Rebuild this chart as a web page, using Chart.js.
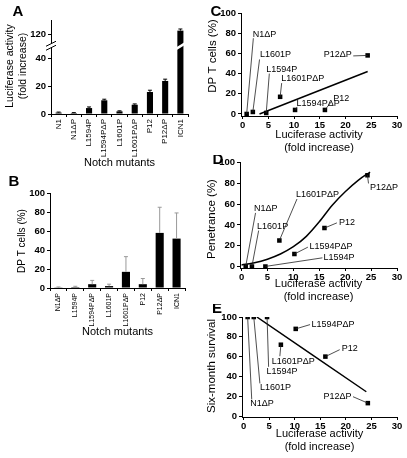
<!DOCTYPE html>
<html>
<head>
<meta charset="utf-8">
<script src="https://cdn.jsdelivr.net/npm/chart.js@4.4.1/dist/chart.umd.min.js"></script>
<style>
body { margin: 0; background: #fff; }
#fig { position: relative; width: 407px; height: 458px; background: #fff; }
canvas { position: absolute; }
</style>
</head>
<body>
<div id="fig">
  <canvas id="chartA" width="200" height="172" style="left:0;top:0"></canvas>
  <canvas id="chartB" width="200" height="165" style="left:0;top:175px"></canvas>
  <canvas id="chartC" width="207" height="155" style="left:200px;top:0"></canvas>
  <canvas id="chartD" width="207" height="149" style="left:200px;top:155px"></canvas>
  <canvas id="chartE" width="207" height="150" style="left:200px;top:304px"></canvas>
</div>
<script>
// A: luciferase activity (fold increase) per Notch mutant
const mutantsA = ["N1", "N1ΔP", "L1594P", "L1594PΔP", "L1601P", "L1601PΔP", "P12", "P12ΔP", "ICN1"];
const luciferase = [1.0, 0.7, 4.3, 9.9, 1.9, 6.7, 15.9, 23.9, 122.5];
const luciferaseErr = [0.4, 0.3, 0.8, 0.8, 0.4, 0.6, 1.3, 1.3, 1.2];
const yTicksA = [0, 20, 40, 120];
const breakShift = 62.2; // values over 100 are drawn this much lower (broken axis)

// B: DP T cells (%)
const mutantsB = ["N1ΔP", "L1594P", "L1594PΔP", "L1601P", "L1601PΔP", "P12", "P12ΔP", "ICN1"];
const dpCells = [0.3, 1, 4, 2, 17, 4, 58, 52];
const dpCellsErr = [0.8, 0.8, 4, 2, 16, 6, 27, 27];

// C, D, E: phenotype vs luciferase activity
const mutantsXY = ["N1ΔP", "L1601P", "L1594P", "L1601PΔP", "L1594PΔP", "P12", "P12ΔP"];
const lucXY = [0.8, 2.0, 4.6, 7.3, 10.2, 16.0, 24.3];
const dpXY = [0, 2, 1, 17, 4, 4, 58];
const penetrance = [0, 0, 0, 25, 12, 37, 88];
const survival = [100, 100, 100, 72, 88, 60, 13];

// fitted lines
const fitCx = [3.3, 24.3];
const fitCy = [0, 42];
const curveDx = [0, 2.5, 5, 7.5, 10, 12.5, 15, 17.5, 20, 22.5, 24.8];
const curveDy = [1.5, 3.5, 7, 12, 19, 29, 43, 59, 72, 83, 91];
const fitEx = [2.6, 24.0];
const fitEy = [100, 24.5];

const xTicksFold = [0, 5, 10, 15, 20, 25, 30];
const yTicksPct = [0, 20, 40, 60, 80, 100];

// label placement: [textX, textY, leaderEndX, leaderEndY, align] in data units
const labelsC = [
  [2.0, 79, 2.1, 75, 'left'],
  [3.4, 58.5, 3.3, 54, 'left'],
  [4.6, 44, 5.2, 40, 'left'],
  [7.5, 35, 7.6, 30.6, 'left'],
  [10.5, 10, 10.6, 7, 'left'],
  [17.6, 15, 17.3, 12.5, 'left'],
  [21.2, 58.5, 21.5, 57.5, 'right']
];
const labelsD = [
  [2.4, 56, 2.7, 51.6, 'left'],
  [3.0, 38.8, 3.3, 34.6, 'left'],
  [15.8, 9, 15.6, 8.3, 'left'],
  [10.5, 69, 10.7, 65, 'left'],
  [13.1, 19.6, 12.8, 18.6, 'left'],
  [18.8, 42.6, 18.4, 42, 'left'],
  [24.8, 76, 24.5, 80, 'left']
];
const labelsE = [
  [1.3, 12.4, 1.6, 16.8, 'left'],
  [3.2, 28.9, 3.2, 32.9, 'left'],
  [4.5, 45.3, 4.9, 49.7, 'left'],
  [5.5, 55.4, 7.1, 60.4, 'left'],
  [13.3, 92.6, 13.0, 92.3, 'left'],
  [19.2, 68, 18.8, 67, 'left'],
  [21.1, 20, 21.4, 19.5, 'right']
];

const FAMILY = "'Liberation Sans', Arial, Helvetica, sans-serif";
const f = (size, weight) => ({ family: FAMILY, size: size, weight: weight || 'normal' });
const css = (size, weight) => (weight || 'normal') + ' ' + size + 'px ' + FAMILY;

const toBroken = v => (v > 100 ? v - breakShift : v);

// error bars (upper half only)
const errorBars = {
  id: 'errorBars',
  afterDatasetsDraw(chart, args, opts) {
    if (!opts.errors) return;
    const ctx = chart.ctx, y = chart.scales.y;
    const vals = chart.data.datasets[0].data;
    ctx.save();
    ctx.strokeStyle = opts.color;
    ctx.lineWidth = opts.width;
    chart.getDatasetMeta(0).data.forEach((bar, i) => {
      const top = y.getPixelForValue(vals[i] + opts.errors[i]);
      ctx.beginPath();
      ctx.moveTo(bar.x, bar.y);
      ctx.lineTo(bar.x, top);
      ctx.moveTo(bar.x - opts.cap, top);
      ctx.lineTo(bar.x + opts.cap, top);
      ctx.stroke();
    });
    ctx.restore();
  }
};

// break marks on the y axis and on the broken bar
const axisBreak = {
  id: 'axisBreak',
  afterDatasetsDraw(chart, args, opts) {
    if (opts.at === undefined) return;
    const ctx = chart.ctx, yc = chart.scales.y.getPixelForValue(opts.at);
    const x0 = chart.chartArea.left;
    ctx.save();
    ctx.fillStyle = '#fff';
    ctx.beginPath();
    ctx.moveTo(x0 - 5, yc + 4); ctx.lineTo(x0 + 5, yc - 1);
    ctx.lineTo(x0 + 5, yc - 5); ctx.lineTo(x0 - 5, yc);
    ctx.fill();
    ctx.strokeStyle = '#000';
    ctx.lineWidth = 1;
    ctx.beginPath();
    ctx.moveTo(x0 - 5, yc + 4); ctx.lineTo(x0 + 5, yc - 1);
    ctx.moveTo(x0 - 5, yc); ctx.lineTo(x0 + 5, yc - 5);
    ctx.stroke();
    const meta = chart.getDatasetMeta(0);
    const bar = meta.data[opts.bar];
    const w = bar.width / 2 + 1;
    ctx.beginPath();
    ctx.moveTo(bar.x - w, yc + 4); ctx.lineTo(bar.x + w, yc - 1);
    ctx.lineTo(bar.x + w, yc - 4); ctx.lineTo(bar.x - w, yc + 1);
    ctx.fill();
    ctx.restore();
  }
};

// point labels with leader lines
const leaderLabels = {
  id: 'leaderLabels',
  afterDatasetsDraw(chart, args, opts) {
    if (!opts.layout) return;
    const ctx = chart.ctx, xs = chart.scales.x, ys = chart.scales.y;
    ctx.save();
    ctx.strokeStyle = '#222';
    ctx.lineWidth = 0.8;
    ctx.fillStyle = '#000';
    ctx.font = opts.font;
    ctx.textBaseline = 'middle';
    opts.layout.forEach((l, i) => {
      ctx.beginPath();
      ctx.moveTo(xs.getPixelForValue(opts.x[i]), ys.getPixelForValue(opts.y[i]));
      ctx.lineTo(xs.getPixelForValue(l[2]), ys.getPixelForValue(l[3]));
      ctx.stroke();
      ctx.textAlign = l[4];
      ctx.fillText(opts.names[i], xs.getPixelForValue(l[0]), ys.getPixelForValue(l[1]));
    });
    ctx.restore();
  }
};

// panel letters and y titles
const panelText = {
  id: 'panelText',
  afterDraw(chart, args, opts) {
    const ctx = chart.ctx;
    (opts.items || []).forEach(t => {
      ctx.save();
      ctx.font = t.font;
      ctx.fillStyle = '#000';
      ctx.textAlign = 'center';
      ctx.textBaseline = 'middle';
      ctx.translate(t.x, t.y);
      if (t.rot) ctx.rotate(-Math.PI / 2);
      ctx.fillText(t.text, 0, 0);
      ctx.restore();
    });
  }
};

Chart.register(errorBars, axisBreak, leaderLabels, panelText);

const axisGrid = { drawOnChartArea: false, color: '#000', tickLength: 3 };
const axisBorder = { color: '#000', width: 1 };

//Panel A
new Chart(document.getElementById('chartA'), {
  type: 'bar',
  data: {
    labels: mutantsA,
    datasets: [{
      data: luciferase.map(toBroken),
      backgroundColor: '#000',
      barPercentage: 0.8,
      categoryPercentage: 0.5
    }]
  },
  options: {
    responsive: false,
    animation: false,
    layout: { padding: { top: 20, right: 12, bottom: 2 } },
    plugins: {
      legend: { display: false },
      tooltip: { enabled: false },
      errorBars: { errors: luciferaseErr, color: '#000', width: 1, cap: 2 },
      axisBreak: { at: 49, bar: 8 },
      panelText: { items: [
        { text: 'A', x: 18, y: 12, font: css(15, 'bold') },
        { text: 'Luciferase activity', x: 10, y: 66, rot: true, font: css(10.5) },
        { text: '(fold increase)', x: 23, y: 66, rot: true, font: css(10.5) }
      ] }
    },
    scales: {
      x: {
        grid: axisGrid, border: axisBorder,
        ticks: { minRotation: 90, maxRotation: 90, font: f(8), color: '#000', padding: 2 },
        title: { display: true, text: 'Notch mutants', font: f(11), color: '#000', padding: 0 },
        afterFit: s => { s.height = 56; }
      },
      y: {
        min: 0, max: 68,
        grid: axisGrid, border: axisBorder,
        afterBuildTicks: s => { s.ticks = yTicksA.map(v => ({ value: toBroken(v) })); },
        ticks: { callback: (v, i) => yTicksA[i], font: f(9.5, 'bold'), color: '#000', padding: 2 },
        afterFit: s => { s.width = 51; }
      }
    }
  }
});

//Panel B
new Chart(document.getElementById('chartB'), {
  type: 'bar',
  data: {
    labels: mutantsB,
    datasets: [{
      data: dpCells,
      backgroundColor: '#000',
      barPercentage: 0.8,
      categoryPercentage: 0.6
    }]
  },
  options: {
    responsive: false,
    animation: false,
    layout: { padding: { top: 18, right: 15, bottom: 1 } },
    plugins: {
      legend: { display: false },
      tooltip: { enabled: false },
      errorBars: { errors: dpCellsErr, color: '#999', width: 1, cap: 2 },
      panelText: { items: [
        { text: 'B', x: 14, y: 7, font: css(15, 'bold') },
        { text: 'DP T cells (%)', x: 22, y: 66, rot: true, font: css(10) }
      ] }
    },
    scales: {
      x: {
        grid: axisGrid, border: axisBorder,
        ticks: { minRotation: 90, maxRotation: 90, font: f(7), color: '#000', padding: 2 },
        title: { display: true, text: 'Notch mutants', font: f(11), color: '#000', padding: 0 },
        afterFit: s => { s.height = 51; }
      },
      y: {
        min: 0, max: 100,
        grid: axisGrid, border: axisBorder,
        afterBuildTicks: s => { s.ticks = yTicksPct.map(v => ({ value: v })); },
        ticks: { font: f(9.5, 'bold'), color: '#000', padding: 2 },
        afterFit: s => { s.width = 50; }
      }
    }
  }
});

// C, D, E share the same layout
function xyChart(id, cfg) {
  return new Chart(document.getElementById(id), {
    type: 'scatter',
    data: {
      datasets: [
        {
          type: 'line',
          data: cfg.fitX.map((x, i) => ({ x: x, y: cfg.fitY[i] })),
          borderColor: '#000',
          borderWidth: 1.5,
          pointRadius: 0,
          fill: false,
          cubicInterpolationMode: 'monotone'
        },
        {
          data: lucXY.map((x, i) => ({ x: x, y: cfg.values[i] })),
          pointStyle: 'rect',
          pointRadius: 3.2,
          backgroundColor: '#000',
          borderWidth: 0
        }
      ]
    },
    options: {
      responsive: false,
      animation: false,
      layout: { padding: { top: cfg.top, right: 10 } },
      plugins: {
        legend: { display: false },
        tooltip: { enabled: false },
        leaderLabels: { names: mutantsXY, x: lucXY, y: cfg.values, layout: cfg.labels, font: css(9) },
        panelText: { items: [
          { text: cfg.letter, x: cfg.letterPos[0], y: cfg.letterPos[1], font: css(15, 'bold') },
          { text: cfg.yTitle, x: cfg.yTitlePos[0], y: cfg.yTitlePos[1], rot: true, font: css(11.5) }
        ] }
      },
      scales: {
        x: {
          type: 'linear', min: -0.3, max: 30,
          grid: axisGrid, border: axisBorder,
          afterBuildTicks: s => { s.ticks = xTicksFold.map(v => ({ value: v })); },
          ticks: { font: f(9.5, 'bold'), color: '#000', padding: 1, maxRotation: 0 },
          title: { display: true, text: ['Luciferase activity', '(fold increase)'], font: f(11), color: '#000', padding: 0 },
          afterFit: s => { s.height = cfg.xHeight; }
        },
        y: {
          type: 'linear', min: cfg.yMin, max: 100,
          grid: axisGrid, border: axisBorder,
          afterBuildTicks: s => { s.ticks = yTicksPct.map(v => ({ value: v })); },
          ticks: { font: f(9.5, 'bold'), color: '#000', padding: 2 },
          afterFit: s => { s.width = cfg.yWidth; }
        }
      }
    }
  });
}

//Panel C
xyChart('chartC', {
  values: dpXY, fitX: fitCx, fitY: fitCy, labels: labelsC,
  letter: 'C', letterPos: [16, 12], yTitle: 'DP T cells (%)', yTitlePos: [13, 56],
  top: 13, yMin: -2, xHeight: 39, yWidth: 41
});

//Panel D
xyChart('chartD', {
  values: penetrance, fitX: curveDx, fitY: curveDy, labels: labelsD,
  letter: 'D', letterPos: [18, 5], yTitle: 'Penetrance (%)', yTitlePos: [12, 64],
  top: 7, yMin: -1.5, xHeight: 36, yWidth: 40
});

//Panel E
xyChart('chartE', {
  values: survival, fitX: fitEx, fitY: fitEy, labels: labelsE,
  letter: 'E', letterPos: [17, 5], yTitle: 'Six-month survival', yTitlePos: [12, 62],
  top: 13, yMin: -1, xHeight: 37, yWidth: 42
});
</script>
</body>
</html>
